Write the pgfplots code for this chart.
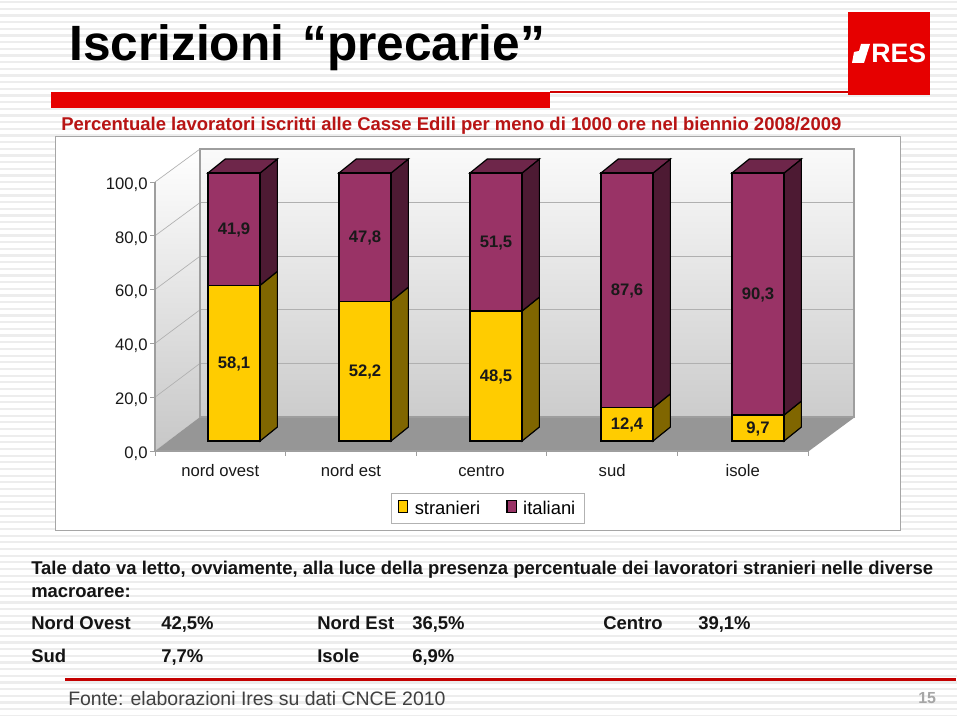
\documentclass[border=0pt]{standalone}
\usepackage{fontspec}
\setmainfont{Liberation Sans}
\usepackage{pgfplots}
\pgfplotsset{compat=1.18}
\usepackage{pgfplotstable}

\definecolor{giallo}{HTML}{FFCC00}
\definecolor{giallolato}{HTML}{806600}
\definecolor{viola}{HTML}{993366}
\definecolor{violalato}{HTML}{4D1A33}
\definecolor{violatop}{HTML}{6E264A}
\definecolor{rosso}{HTML}{E60000}
\definecolor{rossotesto}{HTML}{B81414}
\definecolor{griglia}{HTML}{B0B0B0}

\newcommand{\fs}[1]{\fontsize{#1}{#1}\selectfont}

\pgfplotstableread{
x  stranieri italiani
0  58.1      41.9
1  52.2      47.8
2  48.5      51.5
3  12.4      87.6
4  9.7       90.3
}\iscritti

\pgfplotstableread{
x  mid    val
0  29.05  58.1
1  26.10  52.2
2  24.25  48.5
3  6.20   12.4
4  4.85   9.7
0  79.05  41.9
1  76.10  47.8
2  74.25  51.5
3  56.20  87.6
4  54.85  90.3
}\etichette

% 1 px of the reference = 0.75pt
\pgfplotsset{
  piano barre/.style={
    at={(126.375pt,205.5pt)}, anchor=south west,
    scale only axis, width=491.25pt, height=201pt,
    xmin=-0.5, xmax=4.5, ymin=0, ymax=100,
    clip=false,
  },
}

\begin{document}
\begin{tikzpicture}
\useasboundingbox (0,0) rectangle (720pt,536.25pt);
\begin{scope}[x=0.75pt,y=-0.75pt,yshift=536.25pt]
  \fill[white] (0,0) rectangle (960,715);
  \foreach \k in {0,...,107} {
    \fill[black!7] (0,{1+6.67*\k}) rectangle (957,{3.2+6.67*\k});
  }
  % titles and header
  \node[anchor=base west,inner sep=0,font=\fs{37.2}\bfseries] at (69,61) {Iscrizioni};
  \node[anchor=base west,inner sep=0,font=\fs{37.2}\bfseries] at (302,61) {“precarie”};
  \fill[rosso] (51,92) rectangle (550,108);
  \fill[rosso!90!black] (550,91.5) rectangle (848,93.5);
  \fill[rosso] (848,12.5) rectangle (930,95);
  \fill[white] (852,63) -- (864,63) -- (870,44) -- (861,44) -- (859,51) -- (854,52) -- cycle;
  \node[anchor=base west,inner sep=0,text=white,font=\fs{20}\bfseries] at (871,63) {RES};
  \node[anchor=base west,inner sep=0,text=rossotesto,font=\fs{13.87}\bfseries] at (61,130.5) {Percentuale lavoratori iscritti alle Casse Edili per meno di 1000 ore nel biennio 2008/2009};
  % chart panel
  \filldraw[fill=white,draw=black!35,line width=0.9pt] (55.5,136.5) rectangle (900.5,530.5);
  % left wall and floor
  \shade[top color=white,bottom color=black!22] (155,182) -- (200,149) -- (200,417) -- (155,451) -- cycle;
  \fill[black!41] (155,451) -- (200,417) -- (855,417) -- (809,451) -- cycle;
  \foreach \k in {1,...,5} {
    \draw[griglia,line width=0.5pt] (155,{451-53.8*\k}) -- (200,{417-53.6*\k});
  }
\end{scope}

% back wall
\begin{axis}[
  at={(150pt,223.5pt)}, anchor=south west,
  scale only axis, width=490.5pt, height=201pt,
  xmin=0, xmax=1, ymin=0, ymax=100,
  xtick=\empty, ytick={20,40,...,80}, yticklabels={},
  major tick length=0pt,
  ymajorgrids, grid style={griglia,line width=0.5pt},
  axis line style={draw=black!38,line width=0.9pt},
  axis background/.style={top color=black!2,bottom color=black!20},
]
\end{axis}

% front plane: value axis and category names
\begin{axis}[
  at={(116.25pt,198pt)}, anchor=south west,
  scale only axis, width=489.75pt, height=201.75pt,
  xmin=-0.5, xmax=4.5, ymin=0, ymax=100,
  axis x line=bottom, axis y line=left,
  axis line style={-,draw=black!38,line width=0.9pt},
  xtick={-0.5,0.5,1.5,2.5,3.5,4.5},
  xticklabels={},
  extra x ticks={0,1,2,3,4},
  extra x tick labels={nord ovest,nord est,centro,sud,isole},
  extra x tick style={tick style={draw=none},
    xticklabel style={font=\fs{12.5},yshift=-2.8pt,text=black!90,text height=9pt,text depth=2.6pt}},
  ytick={0,20,...,100},
  major tick length=3.5pt,
  tick style={draw=black!38,line width=0.7pt},
  tick align=outside,
  yticklabel style={font=\fs{12.5},text=black!90,xshift=1.5pt,yshift=-1.9pt,
    /pgf/number format/.cd,use comma,fixed,fixed zerofill,precision=1,assume math mode=true},
]
\end{axis}

% side and top faces of the bars
\begin{axis}[piano barre, hide axis]
\addplot[fill=giallolato,draw=black,line width=0.9pt] coordinates {(0.199,0)(0.331,5.2)(0.331,63.3)(0.199,58.1)} --cycle;
\addplot[fill=violalato,draw=black,line width=0.9pt] coordinates {(0.199,58.1)(0.331,63.3)(0.331,105.2)(0.199,100)} --cycle;
\addplot[fill=violatop,draw=black,line width=0.9pt] coordinates {(-0.199,100)(-0.067,105.2)(0.331,105.2)(0.199,100)} --cycle;
\addplot[fill=giallolato,draw=black,line width=0.9pt] coordinates {(1.199,0)(1.331,5.2)(1.331,57.4)(1.199,52.2)} --cycle;
\addplot[fill=violalato,draw=black,line width=0.9pt] coordinates {(1.199,52.2)(1.331,57.4)(1.331,105.2)(1.199,100)} --cycle;
\addplot[fill=violatop,draw=black,line width=0.9pt] coordinates {(0.801,100)(0.933,105.2)(1.331,105.2)(1.199,100)} --cycle;
\addplot[fill=giallolato,draw=black,line width=0.9pt] coordinates {(2.199,0)(2.331,5.2)(2.331,53.7)(2.199,48.5)} --cycle;
\addplot[fill=violalato,draw=black,line width=0.9pt] coordinates {(2.199,48.5)(2.331,53.7)(2.331,105.2)(2.199,100)} --cycle;
\addplot[fill=violatop,draw=black,line width=0.9pt] coordinates {(1.801,100)(1.933,105.2)(2.331,105.2)(2.199,100)} --cycle;
\addplot[fill=giallolato,draw=black,line width=0.9pt] coordinates {(3.199,0)(3.331,5.2)(3.331,17.6)(3.199,12.4)} --cycle;
\addplot[fill=violalato,draw=black,line width=0.9pt] coordinates {(3.199,12.4)(3.331,17.6)(3.331,105.2)(3.199,100)} --cycle;
\addplot[fill=violatop,draw=black,line width=0.9pt] coordinates {(2.801,100)(2.933,105.2)(3.331,105.2)(3.199,100)} --cycle;
\addplot[fill=giallolato,draw=black,line width=0.9pt] coordinates {(4.199,0)(4.331,5.2)(4.331,14.9)(4.199,9.7)} --cycle;
\addplot[fill=violalato,draw=black,line width=0.9pt] coordinates {(4.199,9.7)(4.331,14.9)(4.331,105.2)(4.199,100)} --cycle;
\addplot[fill=violatop,draw=black,line width=0.9pt] coordinates {(3.801,100)(3.933,105.2)(4.331,105.2)(4.199,100)} --cycle;
\end{axis}

% front faces and legend
\begin{axis}[
  piano barre, hide axis,
  ybar stacked, bar width=39pt,
  legend columns=-1,
  legend style={
    at={(0.4878,-0.253)}, anchor=center,
    draw=black!30, line width=0.8pt, fill=white,
    font=\fs{13.8}, inner xsep=5pt, inner ysep=3.5pt,
    column sep=0.1cm,
    /tikz/every even column/.append style={column sep=0.62cm},
  },
  legend image code/.code={
    \draw[#1] (0.07cm,-0.105cm) rectangle (0.31cm,0.22cm);
  },
]
\addplot[fill=giallo,draw=black,line width=0.9pt] table[x=x,y=stranieri] {\iscritti};
\addplot[fill=viola,draw=black,line width=0.9pt] table[x=x,y=italiani] {\iscritti};
\legend{stranieri,italiani}
\end{axis}

% values on the bars, at the middle of each segment
\begin{axis}[piano barre, hide axis]
\addplot[only marks, mark=none, point meta=explicit,
  nodes near coords,
  nodes near coords style={anchor=center,inner sep=0pt,yshift=-0.8pt,font=\fs{12.5}\bfseries,text=black!90,
    /pgf/number format/.cd,use comma,fixed,fixed zerofill,precision=1,assume math mode=true},
] table[x=x,y=mid,meta=val] {\etichette};
\end{axis}

\begin{scope}[x=0.75pt,y=-0.75pt,yshift=536.25pt]
  \tikzset{riga/.style={anchor=base west,inner sep=0,text=black!92,font=\fs{13.85}\bfseries}}
  \node[riga] at (31,574.7) {Tale dato va letto, ovviamente, alla luce della presenza percentuale dei lavoratori stranieri nelle diverse};
  \node[riga] at (31,597.7) {macroaree:};
  \node[riga] at (31,629.7) {Nord Ovest};
  \node[riga] at (161,629.7) {42,5\%};
  \node[riga] at (317,629.7) {Nord Est};
  \node[riga] at (412,629.7) {36,5\%};
  \node[riga] at (603,629.7) {Centro};
  \node[riga] at (698,629.7) {39,1\%};
  \node[riga] at (31,662.7) {Sud};
  \node[riga] at (161,662.7) {7,7\%};
  \node[riga] at (317,662.7) {Isole};
  \node[riga] at (412,662.7) {6,9\%};
  \fill[rosso!85!black] (65,678) rectangle (956,680.5);
  \node[anchor=base west,inner sep=0,text=black!75,font=\fs{14.6}] at (68,705) {Fonte: elaborazioni Ires su dati CNCE 2010};
  \node[anchor=base west,inner sep=0,text=black!35,font=\fs{12}\bfseries] at (918,703) {15};
\end{scope}
\end{tikzpicture}
\end{document}
